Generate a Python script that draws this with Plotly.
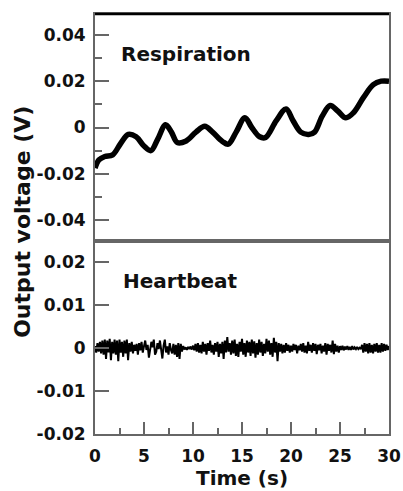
import numpy as np
import plotly.graph_objects as go
from plotly.subplots import make_subplots

# ---------------- data ----------------
resp_t = [0.0, 0.4, 1.0, 1.8, 2.6, 3.4, 4.2, 5.0, 5.7, 6.4, 7.2, 7.8, 8.4, 9.3,
          10.3, 11.2, 12.0, 13.0, 13.6, 14.4, 15.3, 16.0, 16.8, 17.4, 18.5, 19.5,
          20.2, 21.0, 21.8, 22.4, 23.2, 24.0, 24.8, 25.6, 26.4, 27.4, 28.4, 29.2, 30.0]
resp_v = [-0.0175, -0.0140, -0.0125, -0.0118, -0.0070, -0.0030, -0.0040, -0.0080,
          -0.0100, -0.0050, 0.0012, -0.0020, -0.0065, -0.0058, -0.0020, 0.0005,
          -0.0020, -0.0060, -0.0072, -0.0020, 0.0042, 0.0000, -0.0040, -0.0043,
          0.0030, 0.0080, 0.0030, -0.0020, -0.0030, -0.0020, 0.0050, 0.0095,
          0.0070, 0.0042, 0.0065, 0.0130, 0.0185, 0.0200, 0.0200]

heart_v = [
    0.0005, -0.0010, 0.0012, -0.0008, 0.0015, -0.0012, 0.0018, -0.0015,
    0.0020, -0.0025, 0.0018, -0.0010, 0.0022, -0.0028, 0.0015, -0.0012,
    0.0020, -0.0015, 0.0018, -0.0030, 0.0020, -0.0010, 0.0015, -0.0020,
    0.0018, -0.0012, 0.0020, -0.0028, 0.0012, -0.0008, 0.0015, -0.0012,
    0.0008, -0.0006, 0.0010, -0.0015, 0.0012, -0.0005, 0.0015, -0.0010,
    0.0005, 0.0018, -0.0004, 0.0008, -0.0022, -0.0006, 0.0015, 0.0002,
    0.0020, -0.0015, -0.0008, 0.0012, -0.0002, 0.0018, -0.0012, -0.0024,
    0.0006, 0.0020, -0.0010, 0.0004, -0.0015, 0.0012, -0.0004, -0.0012,
    0.0010, -0.0015, 0.0008, -0.0020, 0.0012, -0.0025, 0.0010, -0.0008,
    0.0005, -0.0003, 0.0002, -0.0004, 0.0003, -0.0002, 0.0004, -0.0003,
    0.0006, -0.0005, 0.0010, -0.0008, 0.0012, -0.0010, 0.0008, -0.0012,
    0.0015, -0.0008, 0.0010, -0.0015, 0.0012, -0.0006, 0.0018, -0.0010,
    0.0008, -0.0015, 0.0012, -0.0008, 0.0015, -0.0020, 0.0010, -0.0012,
    0.0015, -0.0025, 0.0018, -0.0010, 0.0026, -0.0008, 0.0012, -0.0015,
    0.0018, -0.0012, 0.0020, -0.0018, 0.0010, -0.0020, 0.0015, -0.0008,
    0.0022, -0.0015, 0.0012, -0.0020, 0.0018, -0.0010, 0.0015, -0.0018,
    0.0020, -0.0012, 0.0016, -0.0022, 0.0012, -0.0015, 0.0020, -0.0010,
    0.0015, -0.0018, 0.0010, -0.0012, 0.0022, -0.0008, 0.0018, -0.0015,
    0.0012, -0.0020, 0.0024, -0.0010, 0.0015, -0.0030, 0.0012, -0.0008,
    0.0010, -0.0012, 0.0008, -0.0010, 0.0012, -0.0006, 0.0008, -0.0010,
    0.0006, -0.0008, 0.0010, -0.0004, 0.0008, -0.0012, 0.0006, -0.0005,
    0.0010, -0.0008, 0.0012, -0.0010, 0.0006, -0.0012, 0.0015, -0.0006,
    0.0008, -0.0010, 0.0012, -0.0006, 0.0010, -0.0014, 0.0008, -0.0005,
    0.0010, -0.0012, 0.0006, -0.0008, 0.0012, -0.0015, 0.0010, -0.0006,
    0.0008, -0.0010, 0.0018, -0.0014, 0.0010, -0.0008, 0.0006, -0.0010,
    0.0005, -0.0004, 0.0006, -0.0005, 0.0004, -0.0003, 0.0005, -0.0004,
    0.0003, -0.0004, 0.0005, -0.0003, 0.0002, -0.0002, 0.0003, -0.0002,
    0.0001, -0.0002, 0.0008, -0.0010, 0.0012, -0.0008, 0.0010, -0.0012,
    0.0012, -0.0010, 0.0008, -0.0012, 0.0010, -0.0008, 0.0012, -0.0010,
    0.0008, -0.0010, 0.0012, -0.0008, 0.0010, -0.0006, 0.0008, -0.0004,
    0.0005,
]
heart_dt = 0.125
heart_t = np.arange(len(heart_v)) * heart_dt

x_ticks = [0, 5, 10, 15, 20, 25, 30]
x_minor = [2.5, 7.5, 12.5, 17.5, 22.5, 27.5]
top_ticks = [-0.04, -0.02, 0, 0.02, 0.04]
top_ticktext = ["-0.04", "-0.02", "0", "0.02", "0.04"]
top_minor = [-0.03, -0.01, 0.01, 0.03]
bot_ticks = [-0.02, -0.01, 0, 0.01, 0.02]
bot_ticktext = ["-0.02", "-0.01", "0", "0.01", "0.02"]

# ---------------- figure ----------------
FONT = "DejaVu Sans"
frame = "#666666"
tickfont = dict(family=FONT, size=17, color="#111", weight="bold")

fig = make_subplots(rows=2, cols=1, shared_xaxes=True, vertical_spacing=0)

fig.add_trace(go.Scatter(x=resp_t, y=resp_v, mode="lines",
                         line=dict(color="black", width=5.5, shape="spline", smoothing=1.0),
                         showlegend=False), row=1, col=1)
fig.add_trace(go.Scatter(x=heart_t, y=heart_v, mode="lines",
                         line=dict(color="black", width=2),
                         showlegend=False), row=2, col=1)

split = 0.4595
fig.update_layout(
    width=403, height=491,
    margin=dict(l=95, r=14, t=14, b=57, autoexpand=False),
    plot_bgcolor="white", paper_bgcolor="white",
    xaxis=dict(domain=[0, 1], range=[0, 30], showticklabels=False, ticks="",
               showline=True, linecolor=frame, linewidth=2, mirror=True,
               showgrid=False, zeroline=False, automargin=False),
    yaxis=dict(domain=[split, 1], range=[-0.049, 0.049],
               tickmode="array", tickvals=top_ticks, ticktext=top_ticktext,
               ticks="inside", ticklen=14, tickwidth=2, tickcolor=frame,
               minor=dict(tickmode="array", tickvals=top_minor, ticks="inside",
                          ticklen=7, tickwidth=2, tickcolor=frame),
               showline=True, linecolor=frame, linewidth=2, mirror=True,
               showgrid=False, zeroline=False, tickfont=tickfont,
               ticklabelstandoff=4, automargin=False),
    xaxis2=dict(domain=[0, 1], range=[0, 30], tickmode="array", tickvals=x_ticks,
                ticks="inside", ticklen=12, tickwidth=2, tickcolor=frame,
                minor=dict(tickmode="array", tickvals=x_minor, ticks="inside",
                           ticklen=6, tickwidth=2, tickcolor=frame),
                showline=True, linecolor=frame, linewidth=2, mirror=True,
                showgrid=False, zeroline=False, tickfont=tickfont,
                ticklabelstandoff=6, automargin=False),
    yaxis2=dict(domain=[0, split], range=[-0.02, 0.025],
                tickmode="array", tickvals=bot_ticks, ticktext=bot_ticktext,
                ticks="inside", ticklen=14, tickwidth=2, tickcolor=frame,
                showline=True, linecolor=frame, linewidth=2, mirror=True,
                showgrid=False, zeroline=False, tickfont=tickfont,
                ticklabelstandoff=4, automargin=False),
    shapes=[dict(type="line", xref="paper", yref="paper", x0=0, x1=1, y0=1, y1=1,
                 line=dict(color="black", width=2.5))],
    annotations=[
        dict(text="Respiration", xref="paper", yref="paper", x=0.083, y=0.904,
             xanchor="left", yanchor="middle", showarrow=False,
             font=dict(family=FONT, size=20, color="#111", weight="bold")),
        dict(text="Heartbeat", xref="paper", yref="paper", x=0.088, y=0.364,
             xanchor="left", yanchor="middle", showarrow=False,
             font=dict(family=FONT, size=20, color="#111", weight="bold")),
        dict(text="Output voltage (V)", xref="paper", yref="paper", x=-0.245, y=0.505,
             xanchor="center", yanchor="middle", showarrow=False, textangle=-90,
             font=dict(family=FONT, size=22, color="#111", weight="bold")),
        dict(text="Time (s)", xref="paper", yref="paper", x=0.5, y=-0.105,
             xanchor="center", yanchor="middle", showarrow=False,
             font=dict(family=FONT, size=20, color="#111", weight="bold")),
    ],
)

fig.write_html("out.html", config={"displayModeBar": False},
               post_script="document.body.style.margin='0';document.body.style.overflow='hidden';")
